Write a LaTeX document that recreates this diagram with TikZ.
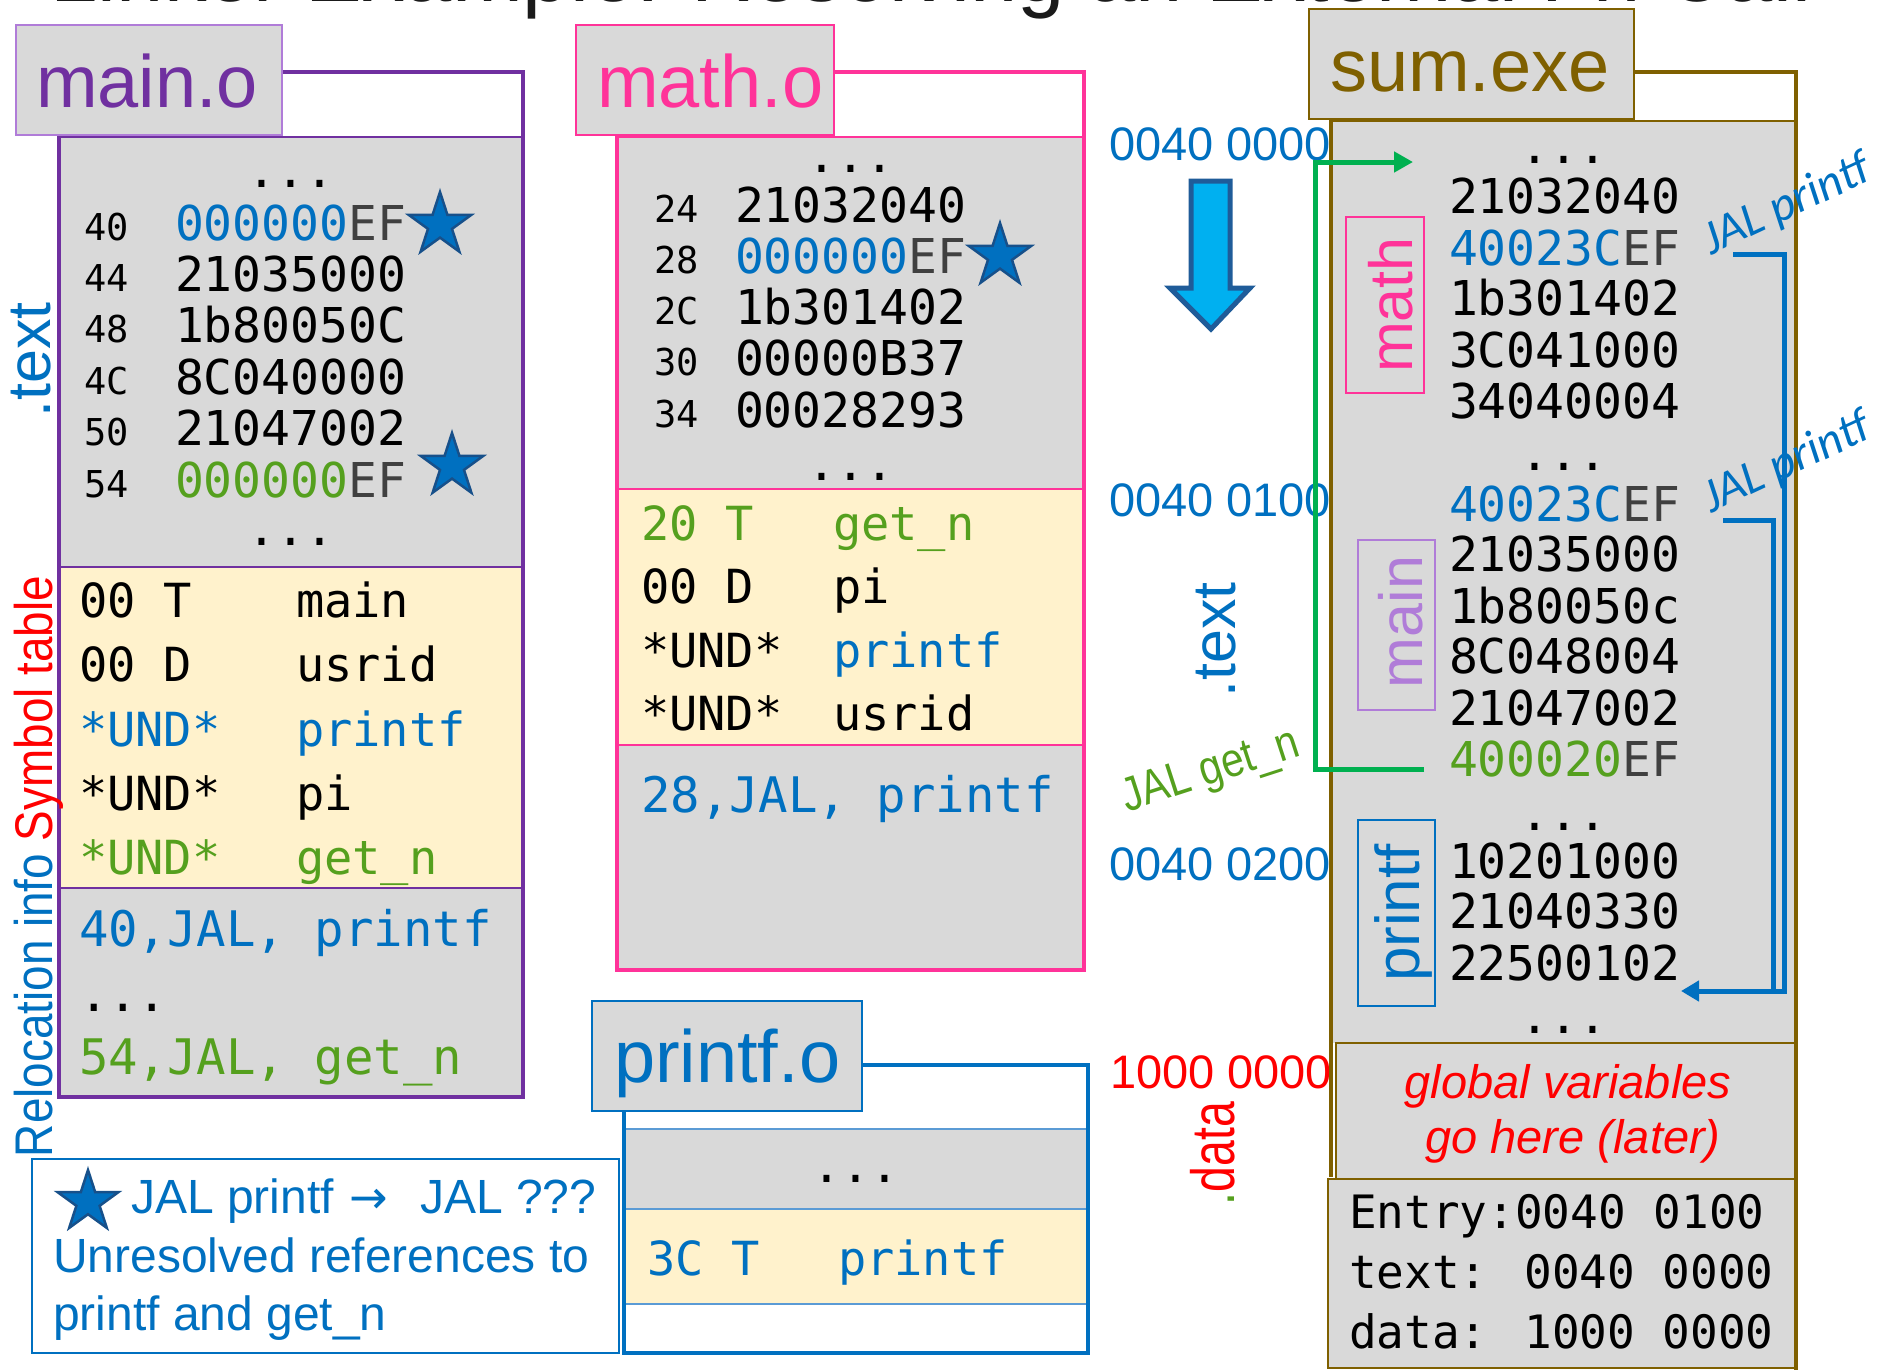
\documentclass[tikz,border=0pt]{standalone}
\usepackage{fontspec}
\setmainfont{Liberation Sans}
\newfontfamily\monof{DejaVu Sans Mono}
\newfontfamily\relf[FakeStretch=0.865]{Liberation Sans}
\newfontfamily\sqf[FakeStretch=0.76]{Liberation Sans}
\newfontfamily\narf[FakeStretch=0.85]{Liberation Sans}
\newfontfamily\calf{Carlito}
\newfontfamily\djv{DejaVu Sans}
\usetikzlibrary{shapes.geometric,arrows.meta}
\newcommand\fs[1]{\fontsize{#1}{#1}\selectfont}
\definecolor{tblue}{HTML}{0070C0}
\definecolor{tgreen}{HTML}{55A01E}
\definecolor{tpink}{HTML}{FF3399}
\definecolor{tpurple}{HTML}{7030A0}
\definecolor{lpurple}{HTML}{B07CD8}
\definecolor{tbrown}{HTML}{7F6000}
\definecolor{tgrey}{HTML}{D9D9D9}
\definecolor{tyellow}{HTML}{FFF2CC}
\definecolor{tred}{HTML}{FF0000}
\definecolor{cgreen}{HTML}{00B050}
\definecolor{efgrey}{HTML}{404040}
\definecolor{starblue}{HTML}{0070C0}
\definecolor{stardark}{HTML}{17508A}
\definecolor{arrfill}{HTML}{00B0F0}
\definecolor{arrdraw}{HTML}{1F5C99}
\definecolor{lblue}{HTML}{5B9BD5}
\definecolor{titlec}{HTML}{1A1A1A}
\begin{document}
\begin{tikzpicture}[x=1pt,y=-1pt,
  every node/.style={inner sep=0pt,outer sep=0pt},
  dat/.style={font={\monof\fs{48}},anchor=base west},
  adr/.style={font={\monof\fs{37}},anchor=base west},
  sym/.style={font={\monof\fs{47}},anchor=base west},
  rel/.style={font={\monof\fs{49}},anchor=base west},
  dots/.style={font={\monof\fs{48}},anchor=base,text height=9pt,text depth=0pt},
  tablbl/.style={font={\fs{74}},anchor=base west},
  star5/.style={star,star points=5,star point ratio=2.618,minimum size=66pt,fill=starblue,draw=stardark,line width=2.5pt},
  bline/.style={line width=2pt},
  frame/.style={line width=4.5pt,line join=miter},
  conn/.style={line width=5pt,line join=miter},
  addrlbl/.style={font={\fs{47}},anchor=base west},
  vlbl/.style={font={\fs{61}},anchor=base,rotate=90},
  jalp/.style={font={\calf\itshape\fs{48}},text=tblue,anchor=base west,rotate=25},
  legtxt/.style={font={\fs{48}},text=tblue,anchor=base west},
]
\useasboundingbox (0,0) rectangle (1882,1369);
\clip (0,0) rectangle (1882,1369);

% title (cut off at top)
\node[font={\fs{85}},text=titlec,anchor=base] (title) at (931,1) {Linker Example: Resolving an External Fn Call};

% ---------------- main.o ----------------
\fill[tgrey] (59,137) rectangle (523,567);
\fill[tyellow] (59,567) rectangle (523,888);
\fill[tgrey] (59,888) rectangle (523,1097);
\draw[bline,tpurple] (59,137) -- (523,137) (59,567) -- (523,567) (59,888) -- (523,888);
\draw[frame,tpurple] (282,72) -- (523,72) -- (523,1097) -- (59,1097) -- (59,135);
\draw[bline,lpurple,fill=tgrey] (16,25) rectangle (282,135);
\node[tablbl,text=tpurple] (mainlbl) at (36,107) {main.o};

\node[dots] (mdt1) at (291,187) {...};
\node[adr] (ma1) at (84,240) {40};
\node[dat] (mc1) at (175,240) {\textcolor{tblue}{000000}\textcolor{efgrey}{EF}};
\node[adr] (ma2) at (84,291.4) {44};
\node[dat] (mc2) at (175,291.4) {21035000};
\node[adr] (ma3) at (84,342.8) {48};
\node[dat] (mc3) at (175,342.8) {1b80050C};
\node[adr] (ma4) at (84,394.2) {4C};
\node[dat] (mc4) at (175,394.2) {8C040000};
\node[adr] (ma5) at (84,445.6) {50};
\node[dat] (mc5) at (175,445.6) {21047002};
\node[adr] (ma6) at (84,497) {54};
\node[dat] (mc6) at (175,497) {\textcolor{tgreen}{000000}\textcolor{efgrey}{EF}};
\node[dots] (mdt2) at (291,545) {...};
\node[star5] (mstar1) at (440,225) {};
\node[star5] (mstar2) at (452,466) {};

\node[sym] (ms1a) at (79,617) {00 T};
\node[sym] (ms1b) at (296,617) {main};
\node[sym] (ms2a) at (79,681) {00 D};
\node[sym] (ms2b) at (296,681) {usrid};
\node[sym,text=tblue] (ms3a) at (79,746) {*UND*};
\node[sym,text=tblue] (ms3b) at (296,746) {printf};
\node[sym] (ms4a) at (79,810) {*UND*};
\node[sym] (ms4b) at (296,810) {pi};
\node[sym,text=tgreen] (ms5a) at (79,874) {*UND*};
\node[sym,text=tgreen] (ms5b) at (296,874) {get\_n};

\node[rel,text=tblue] (mr1) at (79,946) {40,JAL, printf};
\node[rel,text height=9pt,text depth=0pt] (mr2) at (79,1011) {...};
\node[rel,text=tgreen] (mr3) at (79,1074) {54,JAL, get\_n};

\node[vlbl,text=tblue] (mtextlbl) at (50,360) {.text};
\node[font={\relf\fs{53}},anchor=base west,rotate=90] (mrellbl) at (52,1157) {\textcolor{tblue}{Relocation info} \textcolor{tred}{Symbol table}};

% ---------------- math.o ----------------
\fill[tgrey] (617,137) rectangle (1084,489);
\fill[tyellow] (617,489) rectangle (1084,745);
\fill[tgrey] (617,745) rectangle (1084,970);
\draw[bline,tpink] (617,137) -- (1084,137) (617,489) -- (1084,489) (617,745) -- (1084,745);
\draw[frame,tpink] (834,72) -- (1084,72) -- (1084,970) -- (617,970) -- (617,135);
\draw[bline,tpink,fill=tgrey] (576,25) rectangle (834,135);
\node[tablbl,text=tpink] (mathlbl) at (597,107) {math.o};

\node[dots] (tdt1) at (851,172) {...};
\node[adr] (ta1) at (654,222) {24};
\node[dat] (tc1) at (735,222) {21032040};
\node[adr] (ta2) at (654,273.25) {28};
\node[dat] (tc2) at (735,273.25) {\textcolor{tblue}{000000}\textcolor{efgrey}{EF}};
\node[adr] (ta3) at (654,324.5) {2C};
\node[dat] (tc3) at (735,324.5) {1b301402};
\node[adr] (ta4) at (654,375.75) {30};
\node[dat] (tc4) at (735,375.75) {00000B37};
\node[adr] (ta5) at (654,427) {34};
\node[dat] (tc5) at (735,427) {00028293};
\node[dots] (tdt2) at (851,480) {...};
\node[star5] (tstar) at (1000,256) {};

\node[sym,text=tgreen] (ts1a) at (641,540) {20 T};
\node[sym,text=tgreen] (ts1b) at (833,540) {get\_n};
\node[sym] (ts2a) at (641,603) {00 D};
\node[sym] (ts2b) at (833,603) {pi};
\node[sym] (ts3a) at (641,667) {*UND*};
\node[sym,text=tblue] (ts3b) at (833,667) {printf};
\node[sym] (ts4a) at (641,730) {*UND*};
\node[sym] (ts4b) at (833,730) {usrid};
\node[rel,text=tblue] (tr1) at (641,812) {28,JAL, printf};

% ---------------- printf.o ----------------
\draw[bline,lblue,fill=tgrey] (625,1129) rectangle (1087,1209);
\draw[bline,lblue,fill=tyellow] (625,1209) rectangle (1087,1304);
\draw[frame,tblue] (862,1065) -- (1088,1065) -- (1088,1353) -- (624,1353) -- (624,1111);
\draw[bline,tblue,fill=tgrey] (592,1001) rectangle (862,1111);
\node[tablbl,text=tblue] (printflbl) at (614,1082) {printf.o};
\node[dots] (pdt) at (856,1182) {...};
\node[sym,text=tblue] (ps1a) at (647,1275) {3C T};
\node[sym,text=tblue] (ps1b) at (838,1275) {printf};

% ---------------- legend ----------------
\draw[line width=2.5pt,tblue] (32,1159) rectangle (619,1353);
\node[star5,minimum size=64pt] (lstar) at (88,1202) {};
\node[legtxt] (lg1) at (131,1213) {JAL printf};
\node[legtxt,font={\djv\fs{46}}] (lgarr) at (349,1213) {→};
\node[legtxt] (lg2) at (420,1213) {JAL ???};
\node[legtxt] (lg3) at (53,1272) {Unresolved references to};
\node[legtxt] (lg4) at (53,1330) {printf and get\_n};

% ---------------- addresses / middle ----------------
\node[addrlbl,text=tblue] (ad0) at (1109,160) {0040 0000};
\node[addrlbl,text=tblue] (ad1) at (1109,516) {0040 0100};
\node[addrlbl,text=tblue] (ad2) at (1109,880) {0040 0200};
\node[addrlbl,text=tred] (ad3) at (1110,1088) {1000 0000};
\draw[arrdraw,fill=arrfill,line width=5pt,line join=miter] (1191,181) -- (1230,181) -- (1230,288) -- (1250,288) -- (1211,329) -- (1170,288) -- (1191,288) -- cycle;
\node[vlbl,text=tblue] (ctext) at (1235,640) {.text};
\node[font={\sqf\fs{61}},anchor=base west,rotate=90] (cdata) at (1234,1205) {\textcolor{tgreen}{.}\textcolor{tred}{data}};

% ---------------- sum.exe ----------------
\fill[tgrey] (1331,121) rectangle (1796,1043);
\draw[bline,tbrown] (1331,121) -- (1796,121);
\draw[bline,tbrown,fill=tgrey] (1336,1043) rectangle (1797,1179);
\draw[bline,tbrown,fill=tgrey] (1328,1179) rectangle (1797,1368);
\draw[frame,tbrown] (1634,72) -- (1796,72) -- (1796,1375);
\draw[frame,tbrown] (1331,119) -- (1331,1177);
\draw[bline,tbrown,fill=tgrey] (1309,9) rectangle (1634,119);
\node[tablbl,text=tbrown] (sumlbl) at (1330,91) {sum.exe};

\draw[bline,tpink] (1346,217) rectangle (1424,393);
\node[vlbl,text=tpink] (smath) at (1412,305) {math};
\draw[bline,lpurple] (1358,540) rectangle (1435,710);
\node[vlbl,text=lpurple] (smain) at (1422,622) {main};
\draw[bline,tblue] (1358,820) rectangle (1435,1006);
\node[vlbl,text=tblue,font={\fs{62}}] (sprintf) at (1419,913) {printf};

\node[dots] (sdt1) at (1564,163) {...};
\node[dat] (sc1) at (1449,213) {21032040};
\node[dat] (sc2) at (1449,265) {\textcolor{tblue}{40023C}\textcolor{efgrey}{EF}};
\node[dat] (sc3) at (1449,315) {1b301402};
\node[dat] (sc4) at (1449,367) {3C041000};
\node[dat] (sc5) at (1449,418) {34040004};
\node[dots] (sdt2) at (1564,470) {...};
\node[dat] (sc6) at (1449,521) {\textcolor{tblue}{40023C}\textcolor{efgrey}{EF}};
\node[dat] (sc7) at (1449,571) {21035000};
\node[dat] (sc8) at (1449,623) {1b80050c};
\node[dat] (sc9) at (1449,673) {8C048004};
\node[dat] (sc10) at (1449,725) {21047002};
\node[dat] (sc11) at (1449,776) {\textcolor{tgreen}{400020}\textcolor{efgrey}{EF}};
\node[dots] (sdt3) at (1564,830) {...};
\node[dat] (sc12) at (1449,878) {10201000};
\node[dat] (sc13) at (1449,928) {21040330};
\node[dat] (sc14) at (1449,980) {22500102};
\node[dots] (sdt4) at (1564,1033) {...};

\node[font={\itshape\fs{47}},text=tred,anchor=base] (gv1) at (1568,1098) {global variables};
\node[font={\itshape\fs{47}},text=tred,anchor=base] (gv2) at (1573,1153) {go here (later)};

\node[font={\monof\fs{46}},anchor=base west] (en1) at (1349,1228) {Entry:0040 0100};
\node[font={\monof\fs{46}},anchor=base west] (en2) at (1349,1288) {text: 0040 0000};
\node[font={\monof\fs{46}},anchor=base west] (en3) at (1349,1348) {data: 1000 0000};

% ---------------- connectors ----------------
\coordinate (gfrom) at (1424,769);
\coordinate (gcorner1) at (1315,769);
\coordinate (gcorner2) at (1315,162);
\coordinate (gto) at (1413,162);
\draw[conn,cgreen,-{Triangle[length=19pt,width=20pt]}] (gfrom) -- (gcorner1) -- (gcorner2) -- (gto);
\node[font={\narf\fs{48}},text=tgreen,anchor=base west,rotate=18] (jgetn) at (1127,812) {JAL get\_n};

\coordinate (b1from) at (1733,254);
\coordinate (b1c1) at (1784,254);
\coordinate (b1c2) at (1784,991);
\coordinate (bto) at (1681,991);
\coordinate (b2from) at (1723,520);
\coordinate (b2c1) at (1773,520);
\coordinate (b2c2) at (1773,991);
\draw[conn,tblue,-{Triangle[length=18pt,width=20pt]}] (b1from) -- (b1c1) -- (b1c2) -- (bto);
\draw[conn,tblue] (b2from) -- (b2c1) -- (b2c2);
\node[jalp] (jp1) at (1711,255) {JAL printf};
\node[jalp] (jp2) at (1711,513) {JAL printf};
\end{tikzpicture}
\end{document}
